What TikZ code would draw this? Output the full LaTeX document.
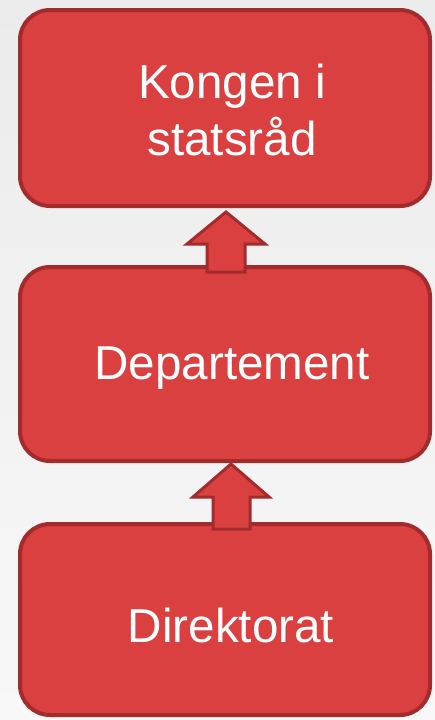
\documentclass[tikz,border=0pt]{standalone}
\usepackage{fontspec}
\setmainfont{Liberation Sans}
\usetikzlibrary{calc}
\definecolor{boxfill}{HTML}{DB4040}
\definecolor{boxline}{HTML}{A32B2B}
\definecolor{bgtop}{HTML}{EBEBEB}
\definecolor{bgbot}{HTML}{F8F8F8}
\tikzset{
  rbox/.style={draw=boxline, fill=boxfill, line width=4pt, rounded corners=30pt,
    minimum width=410pt, text=white, align=center,
    font=\fontsize{47.6}{57}\selectfont, inner sep=0pt},
  blockarrow/.style={draw=boxline, fill=boxfill, line width=3pt, line join=miter}
}
\begin{document}
\begin{tikzpicture}[x=1pt,y=1pt]
\useasboundingbox (0,0) rectangle (435,-720);
\fill[top color=bgtop, bottom color=bgbot] (0,0) rectangle (435,-720);
\node[rbox, minimum height=196pt] (top) at (225,-108) {};
\node[rbox, minimum height=194pt] (mid) at (225,-364) {};
\node[rbox, minimum height=191pt] (bot) at (225,-619.5) {};
\node[text=white, align=center, font=\fontsize{47.6}{57}\selectfont] (ttop) at (232,-110) {Kongen i\\statsråd};
\node[text=white, font=\fontsize{47.6}{57}\selectfont] (tmid) at (232,-368) {Departement};
\node[text=white, font=\fontsize{47.6}{57}\selectfont] (tbot) at (231,-625) {Direktorat};
\coordinate (tip1) at ([xshift=1pt,yshift=-4pt]top.south);
\coordinate (tip2) at ([xshift=6pt,yshift=-1pt]mid.south);
\draw[blockarrow] (tip1) -- ++(-39,-32) -- ++(20,0) -- ++(0,-28) -- ++(38,0) -- ++(0,28) -- ++(20,0) -- cycle;
\draw[blockarrow] (tip2) -- ++(-38,-33) -- ++(20,0) -- ++(0,-32) -- ++(37,0) -- ++(0,32) -- ++(19,0) -- cycle;
\end{tikzpicture}
\end{document}
